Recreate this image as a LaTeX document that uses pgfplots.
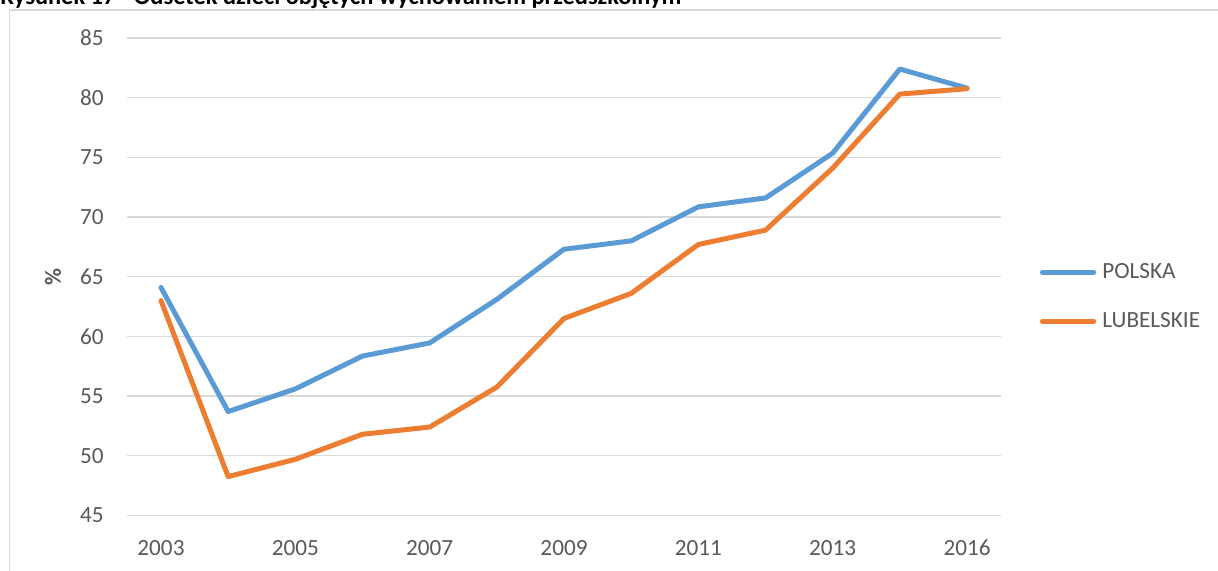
\documentclass[border=0pt]{standalone}
\usepackage{pgfplots}
\pgfplotsset{compat=1.18}
\usepackage{fontspec}
\setmainfont{Carlito}
\definecolor{cblue}{HTML}{5B9BD5}
\definecolor{corange}{HTML}{ED7D31}
\definecolor{cgrid}{HTML}{D9D9D9}
\definecolor{ctext}{HTML}{595959}
\begin{document}
\begin{tikzpicture}
\path[use as bounding box] (0pt,0pt) rectangle (609pt,285.5pt);
\clip (0pt,0pt) rectangle (609pt,285.5pt);
\draw[cgrid, line width=0.75pt] (4.75pt,-10pt) -- (4.75pt,280.5pt) -- (620pt,280.5pt);
\node[anchor=base west, inner sep=0pt, font=\fontsize{12.2pt}{14pt}\selectfont\bfseries] at (0pt,283pt) {Rysunek 17 - Odsetek dzieci objętych wychowaniem przedszkolnym};
\begin{axis}[
  at={(63.7pt,27.8pt)}, anchor=south west,
  scale only axis, width=436.6pt, height=238.7pt,
  xmin=-0.5, xmax=12.5, ymin=45, ymax=85,
  axis line style={draw=none},
  major tick length=0pt,
  xtick={0,2,4,6,8,10,12},
  xticklabels={2003,2005,2007,2009,2011,2013,2016},
  ytick={45,50,...,85},
  ymajorgrids, grid style={cgrid, line width=0.6pt},
  tick label style={font=\fontsize{11.6pt}{14pt}\selectfont, text=ctext, inner sep=0pt},
  /pgf/number format/assume math mode=true,
  xticklabel style={anchor=base, yshift=-20.3pt},
  yticklabel style={anchor=east, xshift=-11.7pt},
  ylabel={\%},
  every axis y label/.style={at={(axis description cs:-0.0852,0.5)}, rotate=90, anchor=center, font=\fontsize{11.6pt}{14pt}\selectfont\bfseries, text=ctext},
  legend style={at={(axis description cs:1.0446,0.4575)}, anchor=west, draw=none, fill=none, inner sep=0pt, row sep=15.5pt, column sep=3.1pt, font=\fontsize{11.6pt}{14pt}\selectfont, text=ctext, nodes={inner sep=0pt}},
  legend cell align=left,
  legend image code/.code={\draw[#1] (0pt,0pt) -- (25.6pt,0pt);},
  every axis plot/.append style={line width=2.5pt, line join=round, line cap=round},
]
\addplot[cblue] coordinates {(0,64.1) (1,53.7) (2,55.6) (3,58.35) (4,59.45) (5,63.1) (6,67.3) (7,68.0) (8,70.85) (9,71.6) (10,75.35) (11,82.4) (12,80.8)};
\addlegendentry{POLSKA}
\addplot[corange] coordinates {(0,63.0) (1,48.25) (2,49.7) (3,51.8) (4,52.4) (5,55.75) (6,61.5) (7,63.6) (8,67.7) (9,68.9) (10,74.1) (11,80.3) (12,80.75)};
\addlegendentry{LUBELSKIE}
\end{axis}
\end{tikzpicture}
\end{document}
